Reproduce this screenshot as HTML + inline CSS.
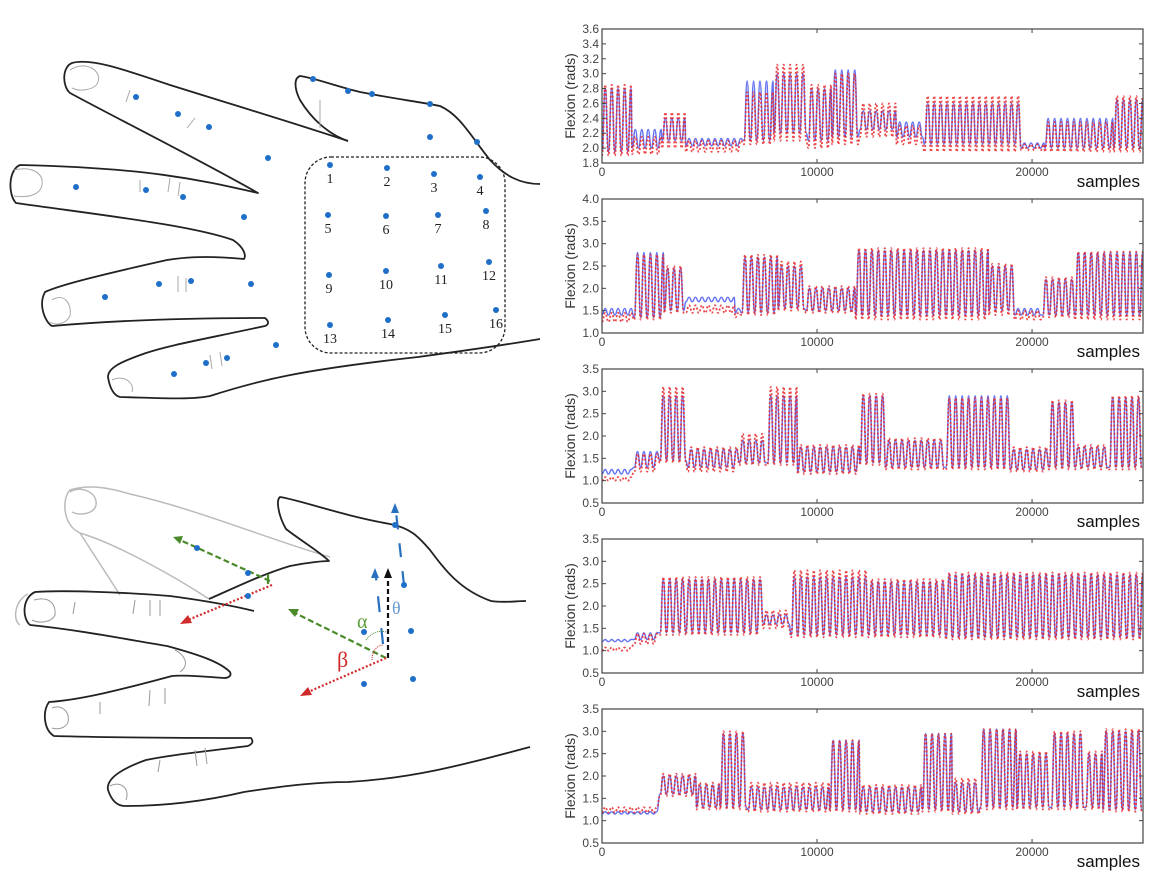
<!DOCTYPE html>
<html><head><meta charset="utf-8"><style>
html,body{margin:0;padding:0;background:#fff;width:1172px;height:875px;overflow:hidden}
svg{position:absolute;left:0;top:0}
.tk{font-family:"Liberation Sans",sans-serif;font-size:12px;fill:#444}
</style></head><body>
<svg id="hands" width="560" height="875">
 <g fill="none" stroke="#222" stroke-width="1.8" stroke-linejoin="round">
  <path d="M348,141 C300,125 250,110 170,85 C120,68 90,58 72,63 C62,67 62,86 70,93 C120,120 200,160 258,193 C200,180 150,168 20,165 C8,170 8,195 16,203 C100,215 190,225 233,240 C245,248 246,256 244,259 C200,255 180,258 167,260 C100,275 60,285 45,292 C38,305 45,322 52,326 C120,320 200,318 265,318 C270,322 268,325 265,326 C200,340 170,345 146,353 C120,362 108,368 108,377 C110,390 115,396 120,397 C160,398 190,400 210,396 C260,380 300,370 418,357 C470,350 510,344 540,339"/>
  <path d="M348,141 C330,135 312,120 300,100 C294,88 294,78 300,76 C315,78 335,86 360,92 C390,98 420,102 440,106 C460,115 470,135 490,160 C505,176 520,184 540,184"/>
  <rect x="305" y="157" width="200" height="196" rx="26" stroke-dasharray="3,2" stroke-width="1.3"/>
 </g>
 <g fill="none" stroke="#aaa" stroke-width="1">
  <path d="M70,70 C85,60 102,70 98,82 C95,90 80,92 72,88"/><path d="M14,170 C30,166 44,172 42,185 C40,195 28,198 14,196"/>
  <path d="M52,300 C65,292 72,305 70,316 C66,324 56,326 50,322"/><path d="M112,380 C125,374 135,384 132,392"/>
  <path d="M130,90 l-4,12 M195,118 l-8,10 M140,180 l0,12 M170,178 l-2,14 M180,182 l-2,14 M186,278 l0,14 M178,276 l0,16 M210,355 l2,14 M220,352 l2,14 M320,100 l0,28"/>
 </g>
 <g fill="#1f6fc8" id="dotsTop"></g>
 <g font-family="'Liberation Serif',serif" font-size="14" fill="#222" id="gridLabels"></g>

 <g fill="none" stroke="#bbb" stroke-width="1.5">
  <path d="M209,599 C180,580 120,545 80,533 C62,525 62,498 70,490 C90,484 110,488 130,494 C200,510 270,540 330,557"/>
  <path d="M70,492 C80,485 98,492 96,505 C94,514 80,516 72,512"/><path d="M80,533 L120,595"/>
  <path d="M28,594 C15,600 12,620 20,625"/>
 </g>
 <g fill="none" stroke="#222" stroke-width="1.8" stroke-linejoin="round">
  <path d="M209,599 C230,590 260,575 290,566 C310,562 325,561 329,561 C320,552 300,540 286,529 C278,515 276,500 280,497 C300,500 340,515 390,524 C410,528 418,536 430,550 C445,570 460,590 491,601 C505,603 515,601 526,601"/>
  <path d="M254,611 C230,605 200,600 170,596 C120,592 60,590 35,592 C22,598 22,618 30,625 C80,630 130,640 167,646 C200,655 220,662 230,672 C232,676 228,678 224,678 C200,676 180,675 172,676 C120,690 80,700 49,702 C42,712 44,730 54,736 C120,738 200,738 251,738 C254,742 252,744 248,746 C200,752 170,755 146,760 C118,770 106,780 108,790 C112,802 118,806 125,806 C170,806 210,800 244,792 C290,785 320,782 348,782 C420,778 480,760 530,747"/>
 </g>
 <g fill="none" stroke="#999" stroke-width="1"><path d="M34,600 C50,596 56,604 55,615 C52,622 40,624 32,620 M52,708 C62,704 70,712 68,722 C66,728 58,730 52,728 M110,786 C122,780 130,790 126,800 M75,602 l-2,12 M135,600 l-2,14 M150,600 l0,16 M160,600 l0,16 M100,702 l0,12 M150,690 l-1,16 M165,688 l0,16 M160,760 l-2,12 M195,750 l2,16 M205,748 l2,16 M175,650 C185,655 190,665 180,672"/></g>
 <g fill="none" stroke-width="2.2">
  <line x1="388" y1="658" x2="388" y2="577" stroke="#111" stroke-dasharray="5,3"/>
  <polygon points="388,568 384,578 392,578" fill="#111" stroke="none"/>
  <line x1="386" y1="658" x2="295" y2="613" stroke="#4a8a2a" stroke-dasharray="6,3"/>
  <polygon points="288,609 299,609 295,617" fill="#4a8a2a" stroke="none"/>
  <line x1="386" y1="658" x2="308" y2="692" stroke="#d02a2a" stroke-dasharray="2,2"/>
  <polygon points="300,696 308,687 312,695" fill="#d02a2a" stroke="none"/>
  <line x1="270" y1="581" x2="180" y2="540" stroke="#4a8a2a" stroke-dasharray="6,3"/>
  <polygon points="173,537 183,536 180,544" fill="#4a8a2a" stroke="none"/>
  <line x1="268" y1="574" x2="268" y2="584" stroke="#4a8a2a"/>
  <line x1="272" y1="585" x2="188" y2="620" stroke="#d02a2a" stroke-dasharray="2,2"/>
  <polygon points="180,624 188,615 192,623" fill="#d02a2a" stroke="none"/>
  <line x1="404" y1="585" x2="396" y2="512" stroke="#2a70c0" stroke-dasharray="14,14"/>
  <polygon points="395,503 391,513 399,513" fill="#2a70c0" stroke="none"/>
  <line x1="383" y1="644" x2="376" y2="577" stroke="#2a70c0" stroke-dasharray="16,16"/>
  <polygon points="375,568 371,578 379,578" fill="#2a70c0" stroke="none"/>
  <path d="M366,640 C372,632 380,630 386,632" stroke="#4a8a2a" stroke-width="1" stroke-dasharray="1,1"/>
  <path d="M372,660 C372,650 378,645 383,645" stroke="#d02a2a" stroke-width="1" stroke-dasharray="1,1"/>
 </g>
 <g fill="#1f6fc8" id="dotsBot"></g>
 <text x="357" y="628" font-family="'Liberation Serif',serif" font-size="20" fill="#5a9a3a">α</text>
 <text x="392" y="614" font-family="'Liberation Serif',serif" font-size="18" fill="#6a9ad0">θ</text>
 <text x="337" y="667" font-family="'Liberation Serif',serif" font-size="22" fill="#d02a2a">β</text>
</svg>
<svg id="charts" width="1172" height="875" style="left:0"></svg>
<script>
// ---- chart data ----
const xTicks = [0, 10000, 20000];
const xMax = 25160;
const yMins = [1.8, 1.0, 0.5, 0.5, 0.5];
const yMaxs = [3.6, 4.0, 3.5, 3.5, 3.5];
const yStep = [0.2, 0.5, 0.5, 0.5, 0.5];
const panelTops = [29, 199, 369, 539, 709];
// segments: [startSample, endSample, blueHi, blueLo, redHi, redLo]
const seg1 = [[0,1400,2.8,1.95,2.85,1.9],[1400,2800,2.25,2.0,2.15,1.92],[2800,3900,2.4,2.1,2.48,2.0],[3900,6500,2.13,2.03,2.1,1.95],[6600,8000,2.9,2.1,2.75,2.05],[8000,9600,3.0,2.2,3.12,2.1],[9600,10700,2.8,2.1,2.85,2.0],[10700,12000,3.05,2.15,3.0,2.05],[12000,13700,2.5,2.25,2.6,2.15],[13700,15000,2.35,2.15,2.3,2.05],[15000,19500,2.6,2.05,2.7,1.95],[19500,20600,2.07,2.0,2.05,1.97],[20600,23800,2.4,2.0,2.35,1.95],[23800,25160,2.65,2.0,2.7,1.95]];
const seg2 = [[0,1500,1.55,1.4,1.45,1.25],[1500,2900,2.8,1.35,2.75,1.3],[2900,3900,2.45,1.5,2.5,1.45],[3900,6200,1.8,1.7,1.62,1.45],[6200,6500,1.55,1.45,1.45,1.35],[6500,8200,2.7,1.45,2.75,1.4],[8200,9500,2.5,1.55,2.6,1.5],[9500,11800,2.0,1.5,2.05,1.45],[11800,18000,2.85,1.4,2.9,1.3],[18000,19200,2.5,1.5,2.55,1.4],[19200,20500,1.55,1.4,1.5,1.3],[20500,22000,2.2,1.4,2.25,1.35],[22000,25160,2.8,1.4,2.82,1.3]];
const seg3 = [[0,1500,1.25,1.15,1.08,1.0],[1500,2700,1.65,1.3,1.6,1.2],[2700,4000,2.9,1.45,3.1,1.4],[4000,6400,1.7,1.3,1.75,1.2],[6400,7700,1.9,1.4,2.05,1.35],[7700,9100,2.9,1.4,3.1,1.35],[9100,12000,1.75,1.2,1.8,1.15],[12000,13200,2.9,1.4,2.95,1.35],[13200,16000,1.9,1.3,1.95,1.25],[16000,19000,2.9,1.3,2.85,1.25],[19000,20800,1.7,1.25,1.75,1.2],[20800,22000,2.75,1.3,2.8,1.25],[22000,23600,1.75,1.3,1.8,1.25],[23600,25160,2.85,1.3,2.9,1.25]];
const seg4 = [[0,1500,1.25,1.2,1.07,1.0],[1500,2700,1.4,1.25,1.38,1.15],[2700,7500,2.6,1.4,2.65,1.35],[7500,8800,1.8,1.6,1.9,1.5],[8800,12400,2.65,1.35,2.8,1.3],[12400,16000,2.55,1.35,2.6,1.3],[16000,25160,2.7,1.3,2.75,1.25]];
const seg5 = [[0,2700,1.2,1.15,1.3,1.18],[2700,4400,2.0,1.6,2.05,1.55],[4400,5500,1.8,1.3,1.85,1.25],[5500,6800,2.95,1.3,3.0,1.25],[6800,10600,1.75,1.25,1.85,1.2],[10600,12000,2.8,1.25,2.8,1.2],[12000,14900,1.75,1.2,1.8,1.15],[14900,16300,2.95,1.25,2.95,1.2],[16300,17600,1.85,1.2,1.95,1.15],[17600,19300,3.05,1.3,3.05,1.25],[19300,20900,2.5,1.3,2.55,1.25],[20900,22500,2.95,1.3,3.0,1.25],[22500,23300,2.5,1.3,2.55,1.25],[23300,25160,3.0,1.25,3.05,1.2]];
const panels = [seg1, seg2, seg3, seg4, seg5];
const halfPeriod = 150;

const NS = 'http://www.w3.org/2000/svg';
const svg = document.getElementById('charts');
const L = 602, R = 1143, H = 134;
function mk(tag, attrs, parent){const e=document.createElementNS(NS,tag);for(const k in attrs)e.setAttribute(k,attrs[k]);parent.appendChild(e);return e;}
function smoothPath(pts){
  if (!pts.length) return '';
  let d = 'M' + pts[0][0].toFixed(1) + ',' + pts[0][1].toFixed(1);
  for (let i = 1; i < pts.length; i++) {
    const a = pts[i-1], b = pts[i], mx = (a[0] + b[0]) / 2;
    d += ' C' + mx.toFixed(1) + ',' + a[1].toFixed(1) + ' ' + mx.toFixed(1) + ',' + b[1].toFixed(1) + ' ' + b[0].toFixed(1) + ',' + b[1].toFixed(1);
  }
  return d;
}
panels.forEach((segs, p) => {
  const top = panelTops[p], bot = top + H;
  const xs = v => L + (v / xMax) * (R - L);
  const ys = v => bot - (v - yMins[p]) / (yMaxs[p] - yMins[p]) * H;
  const g = mk('g', {}, svg);
  
  
  const cp = mk('clipPath', {id: 'cp' + p}, g);
  mk('rect', {x: L, y: top, width: R - L, height: H}, cp);
  ['blue', 'red'].forEach((col, ci) => {
    let pts = [];
    segs.forEach(s => {
      const hi = ci ? s[4] : s[2], lo = ci ? s[5] : s[3];
      let k = 0;
      for (let x = s[0]; x < s[1]; x += halfPeriod, k++) {
        pts.push([xs(Math.min(x, xMax)), ys(k % 2 ? hi : lo)]);
      }
    });
    const pl = mk('path', {d: smoothPath(pts), fill: 'none', 'clip-path': 'url(#cp' + p + ')',
      stroke: ci ? '#e8262a' : '#3c4ff0', 'stroke-width': ci ? 1.8 : 1.4,
      'stroke-dasharray': ci ? '2,2' : 'none', 'stroke-linejoin': 'round', opacity: ci ? 0.85 : 0.8}, g);
    
    
  });
  const fr = mk('rect', {x: L, y: top, width: R - L, height: H, fill: 'none', stroke: '#444', 'stroke-width': 1.2}, g);
  
  
  const n = Math.round((yMaxs[p] - yMins[p]) / yStep[p]);
  for (let i = 0; i <= n; i++) {
    const v = yMins[p] + i * yStep[p];
    mk('line', {x1: L, x2: L + 4, y1: ys(v), y2: ys(v), stroke: '#444'}, g);
    mk('line', {x1: R, x2: R - 4, y1: ys(v), y2: ys(v), stroke: '#444'}, g);
    const t = mk('text', {x: L - 3, y: ys(v) + 4, 'text-anchor': 'end', class: 'tk'}, g);
    t.textContent = v.toFixed(1);
    
    
  }
  xTicks.forEach(v => {
    mk('line', {x1: xs(v), x2: xs(v), y1: bot, y2: bot - 4, stroke: '#444'}, g);
    mk('line', {x1: xs(v), x2: xs(v), y1: top, y2: top + 4, stroke: '#444'}, g);
    const t = mk('text', {x: xs(v), y: bot + 13, 'text-anchor': 'middle', class: 'tk'}, g);
    t.textContent = v;
    
    
  });
  const yl = mk('text', {transform: `translate(575,${top + H / 2}) rotate(-90)`, 'text-anchor': 'middle',
    'font-family': 'Liberation Sans,sans-serif', 'font-size': 14, fill: '#333'}, g);
  yl.textContent = 'Flexion (rads)';
  
  
  const xl = mk('text', {x: 1140, y: bot + 24, 'text-anchor': 'end', 'font-family': 'Liberation Sans,sans-serif', 'font-size': 17, fill: '#111'}, g);
  xl.textContent = 'samples';
  
  
});

const topDots = [[136,97],[178,114],[209,127],[268,158],[76,187],[146,190],[183,197],[244,217],[105,297],[159,284],[191,281],[251,284],[174,374],[206,363],[227,358],[276,345],[313,79],[348,91],[372,94],[430,104],[430,137],[477,142]];
const gridDots = [[330,165],[387,168],[434,174],[480,177],[328,215],[386,216],[438,215],[486,211],[329,275],[386,271],[441,266],[489,262],[330,325],[388,320],[445,315],[496,310]];
const botDots = [[364,632],[411,631],[364,684],[413,679],[197,548],[248,573],[248,596],[395,525],[404,585]];
const dt = document.getElementById('dotsTop'), gl = document.getElementById('gridLabels'), db = document.getElementById('dotsBot');
topDots.concat(gridDots).forEach(d => {
  const c = mk('circle', {cx: d[0], cy: d[1], r: 3}, dt);
  
  
});
gridDots.forEach((d, i) => {
  const t = mk('text', {x: d[0], y: d[1] + 18, 'text-anchor': 'middle'}, gl);
  t.textContent = i + 1;
  
  
});
botDots.forEach(d => {
  const c = mk('circle', {cx: d[0], cy: d[1], r: 3}, db);
  
  
});
</script>
</body></html>
